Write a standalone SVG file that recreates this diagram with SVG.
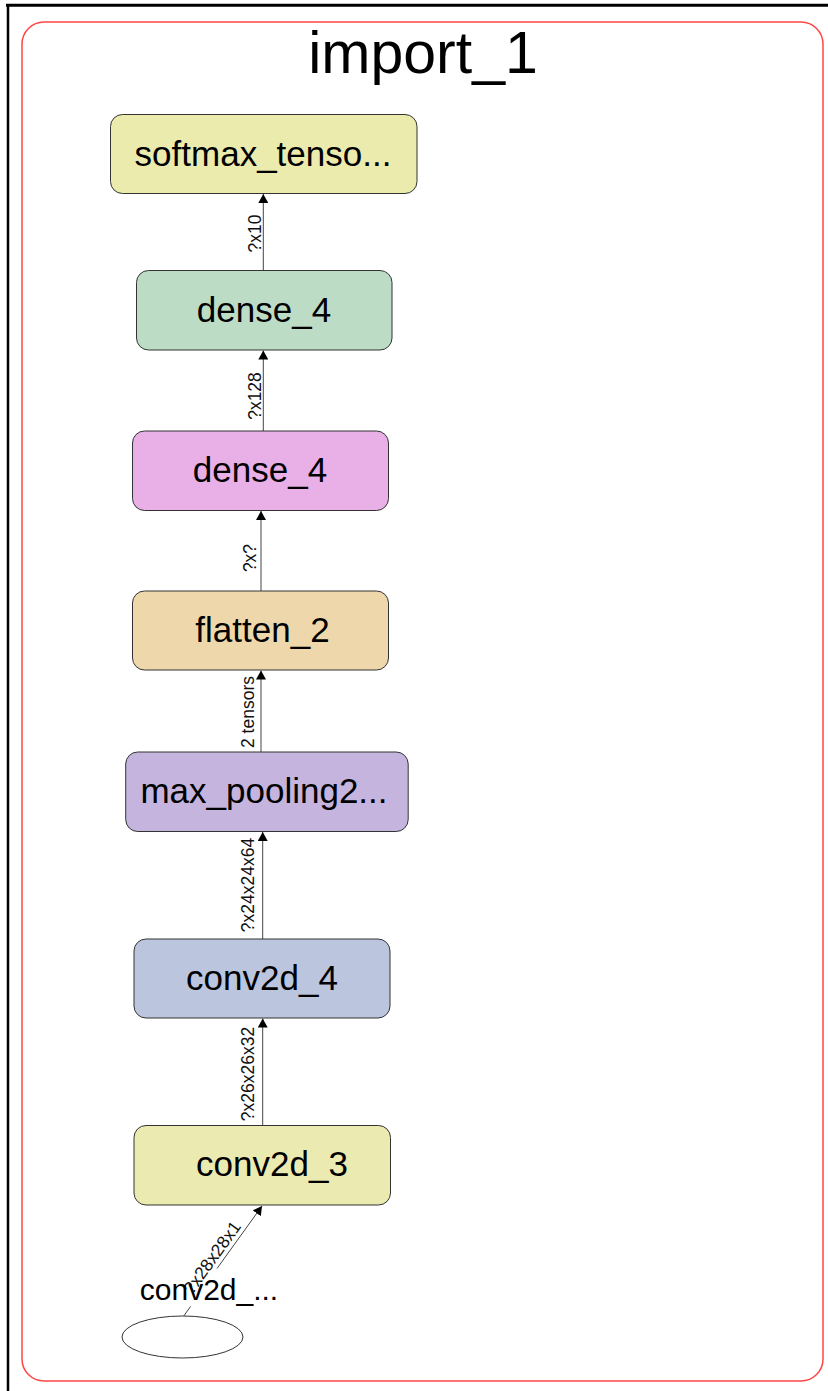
<svg xmlns="http://www.w3.org/2000/svg" width="828" height="1391" viewBox="0 0 828 1391">
<style>
.node rect{stroke:#333;stroke-width:1;}
.lbl{font-family:"Liberation Sans",Arial,sans-serif;font-size:35px;fill:#000;text-anchor:middle;}
.elbl{font-family:"Liberation Sans",Arial,sans-serif;font-size:17.5px;fill:#111;text-anchor:middle;}
.edge{stroke:#444;stroke-width:1;fill:none;}
</style>
<defs>
<marker id="arr" viewBox="0 0 9 10" refX="9" refY="5" markerWidth="9" markerHeight="10" markerUnits="userSpaceOnUse" orient="auto">
<path d="M0,0 L9,5 L0,10 z" fill="#000"/>
</marker>
</defs>
<rect width="828" height="1391" fill="#fff"/>
<g id="frame">
<line x1="6" y1="5.3" x2="828" y2="5.3" stroke="#000" stroke-width="3"/>
<line x1="8" y1="4" x2="8" y2="1391" stroke="#000" stroke-width="2.5"/>
<rect x="22" y="22" width="801" height="1359" rx="22" ry="22" fill="none" stroke="#ff4545" stroke-width="1.5"/>
<text x="423" y="73" style="font-family:'Liberation Sans',Arial,sans-serif;font-size:59px;text-anchor:middle;fill:#000">import_1</text>
</g>
<g id="connectors">
<line class="edge" x1="263.3" y1="270.5" x2="263.3" y2="194" marker-end="url(#arr)"/>
<text class="elbl" transform="translate(261,233.5) rotate(-90)">?x10</text>
<line class="edge" x1="263.3" y1="431" x2="263.3" y2="350.5" marker-end="url(#arr)"/>
<text class="elbl" transform="translate(261,396) rotate(-90)">?x128</text>
<line class="edge" x1="261" y1="591" x2="261" y2="511" marker-end="url(#arr)"/>
<text class="elbl" transform="translate(255.5,558) rotate(-90)">?x?</text>
<line class="edge" x1="261" y1="752" x2="261" y2="670.5" marker-end="url(#arr)"/>
<text class="elbl" transform="translate(254,712) rotate(-90)">2 tensors</text>
<line class="edge" x1="262.7" y1="939" x2="262.7" y2="832" marker-end="url(#arr)"/>
<text class="elbl" transform="translate(253.5,885) rotate(-90)">?x24x24x64</text>
<line class="edge" x1="262.7" y1="1125.5" x2="262.7" y2="1018.5" marker-end="url(#arr)"/>
<text class="elbl" transform="translate(253.5,1074) rotate(-90)">?x26x26x32</text>
<line class="edge" x1="183" y1="1317" x2="190.5" y2="1306.5"/>
<line class="edge" x1="217" y1="1268.5" x2="262" y2="1206" marker-end="url(#arr)"/>
<text class="elbl" transform="translate(217,1261) rotate(-54.3)">?x28x28x1</text>
</g>
<g id="node-softmax" class="node">
<rect x="110.5" y="114.5" width="306.5" height="79" rx="12" fill="#ebebae"/>
<text class="lbl" x="263" y="165.5">softmax_tenso...</text>
</g>
<g id="node-dense4a" class="node">
<rect x="136.5" y="270.5" width="255.5" height="79.5" rx="12" fill="#bddcc6"/>
<text class="lbl" x="264" y="321.5">dense_4</text>
</g>
<g id="node-dense4b" class="node">
<rect x="132.5" y="431" width="256" height="79.5" rx="12" fill="#e9afe7"/>
<text class="lbl" x="260" y="482">dense_4</text>
</g>
<g id="node-flatten" class="node">
<rect x="132.5" y="591" width="256" height="79" rx="12" fill="#eed8ab"/>
<text class="lbl" x="262.5" y="641.5">flatten_2</text>
</g>
<g id="node-maxpool" class="node">
<rect x="125.7" y="752" width="282.5" height="79.5" rx="12" fill="#c5b5de"/>
<text class="lbl" x="264" y="803">max_pooling2...</text>
</g>
<g id="node-conv2d4" class="node">
<rect x="134" y="939" width="256" height="79" rx="12" fill="#bbc6de"/>
<text class="lbl" x="262" y="990">conv2d_4</text>
</g>
<g id="node-conv2d3" class="node">
<rect x="134" y="1125.5" width="256.5" height="79.5" rx="12" fill="#ebeab0"/>
<text class="lbl" x="272" y="1176">conv2d_3</text>
</g>
<g id="node-input">
<ellipse cx="182.5" cy="1337" rx="60.5" ry="21" fill="#fff" stroke="#333" stroke-width="1"/>
<text x="209" y="1300" style="font-family:'Liberation Sans',Arial,sans-serif;font-size:30px;text-anchor:middle;fill:#000">conv2d_...</text>
</g>
</svg>
